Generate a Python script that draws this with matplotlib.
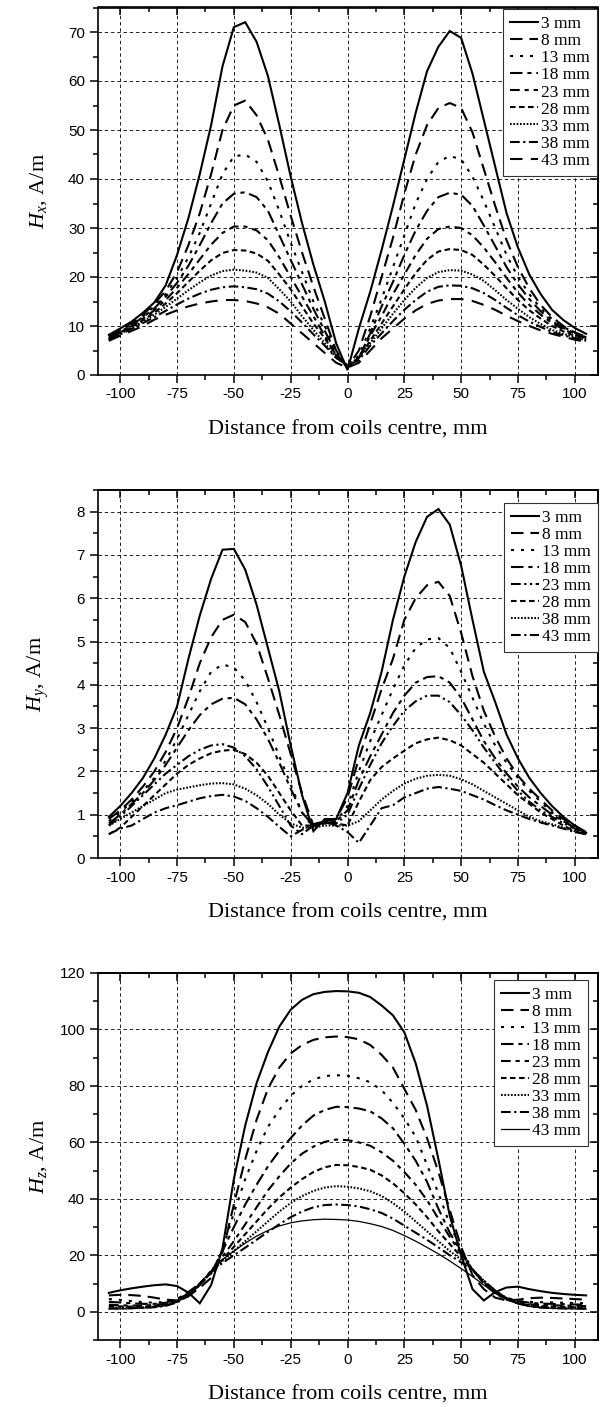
import matplotlib
matplotlib.use('Agg')
import matplotlib.pyplot as plt
from matplotlib.ticker import MultipleLocator

plt.rcParams['font.family'] = ['Liberation Sans', 'DejaVu Sans']
plt.rcParams['axes.unicode_minus'] = False
plt.rcParams['lines.scale_dashes'] = False
plt.rcParams['mathtext.fontset'] = 'custom'
plt.rcParams['mathtext.rm'] = 'Liberation Serif'
plt.rcParams['mathtext.it'] = 'Liberation Serif:italic'

# ---------------- data ----------------
x_mm = [-105, -100, -95, -90, -85, -80, -75, -70, -65, -60, -55, -50, -45, -40, -35, -30,
        -25, -20, -15, -10, -5, 0, 5, 10, 15, 20, 25, 30, 35, 40, 45, 50, 55, 60, 65, 70,
        75, 80, 85, 90, 95, 100, 105]

labels_x = ['3 mm', '8 mm', '13 mm', '18 mm', '23 mm', '28 mm', '33 mm', '38 mm', '43 mm']
labels_y = ['3 mm', '8 mm', '13 mm', '18 mm', '23 mm', '28 mm', '38 mm', '43 mm']
labels_z = ['3 mm', '8 mm', '13 mm', '18 mm', '23 mm', '28 mm', '33 mm', '38 mm', '43 mm']

hx_3 = [8.2, 9.5, 10.9, 12.7, 14.8, 18.3, 24.5, 32, 41, 51, 63, 71, 72, 68, 61, 51, 40.5, 31, 22.5, 15, 6.5, 1.0,
        9.5, 17, 25.5, 34.5, 44, 53.5, 62, 67, 70.2, 68.8, 61.5, 52, 42.5, 33, 26, 20.5, 16.5, 13.3, 11.2, 9.6, 8.4]
hx_8 = [7.8, 9.2, 10.6, 12.3, 14.5, 17.2, 21, 26.5, 33, 41, 50, 55, 56, 53, 48, 40.5, 32.5, 25, 18, 11.5, 5, 1.5,
        5, 12, 20, 28, 37, 45, 51, 54.5, 55.5, 54.5, 49.5, 42, 34.5, 27.5, 22, 17.7, 14.3, 11.8, 10, 8.7, 7.8]
hx_13 = [7.6, 9, 10.4, 12, 14, 16.5, 19.8, 24, 29, 35, 41, 44.6, 45, 43.5, 39.5, 33.5, 27, 21, 15, 10, 4.5, 1.5,
         4, 9.5, 15.5, 22, 28.5, 35, 40, 43.5, 44.7, 44, 40.5, 35.5, 30, 24.5, 20, 16.5, 13.6, 11.4, 9.8, 8.6, 7.7]
hx_18 = [7.4, 8.8, 10.2, 11.8, 13.6, 16, 18.8, 22.3, 26.5, 31, 35, 37, 37.3, 36.3, 33.5, 28.5, 23.5, 18.5, 13.5, 9, 4.5, 1.5,
         3.5, 8.5, 14, 19, 24.5, 29.5, 33.5, 36.3, 37.2, 36.8, 34.5, 30.5, 26.3, 22, 18.5, 15.5, 13, 11, 9.6, 8.5, 7.6]
hx_23 = [7.3, 8.7, 10, 11.5, 13.2, 15.3, 17.8, 20.6, 23.6, 26.6, 29, 30.3, 30.3, 29.5, 27.5, 24, 20, 16, 12, 8, 4, 1.5,
         3.5, 8, 12, 16.5, 20.5, 24.5, 27.8, 29.8, 30.3, 30, 28.5, 26, 23, 19.8, 16.8, 14.3, 12.3, 10.6, 9.3, 8.3, 7.5]
hx_28 = [7.2, 8.6, 9.8, 11.2, 12.7, 14.6, 16.7, 19, 21.3, 23.4, 24.9, 25.5, 25.4, 24.8, 23.3, 20.5, 17.5, 14, 10.5, 7.5, 4, 1.8,
         3.5, 7, 10.5, 14, 17.5, 20.8, 23.5, 25.2, 25.7, 25.5, 24.5, 22.5, 20.2, 17.7, 15.3, 13.2, 11.5, 10, 8.9, 8, 7.3]
hx_33 = [7.1, 8.4, 9.6, 10.9, 12.3, 13.9, 15.6, 17.3, 18.9, 20.3, 21.2, 21.5, 21.3, 20.9, 19.8, 17.5, 15, 12, 9.2, 6.5, 3.5, 2.0,
         3.5, 6.5, 9.5, 12.5, 15.3, 17.8, 19.8, 21, 21.4, 21.3, 20.5, 19.2, 17.3, 15.3, 13.5, 11.8, 10.4, 9.2, 8.4, 7.7, 7.1]
hx_38 = [7.0, 8.3, 9.4, 10.6, 11.8, 13.1, 14.4, 15.6, 16.6, 17.4, 17.9, 18.1, 17.9, 17.5, 16.6, 15, 13, 10.7, 8.3, 6, 3.5, 2.0,
         3, 6, 8.5, 11, 13.3, 15.3, 17, 18, 18.3, 18.2, 17.7, 16.7, 15.3, 13.7, 12.2, 10.9, 9.8, 8.8, 8.1, 7.5, 7.0]
hx_43 = [7.0, 8.0, 9.0, 10.0, 11.3, 12.3, 13.2, 14.0, 14.6, 15.0, 15.3, 15.3, 15.1, 14.6, 13.8, 12.5, 10.5, 8.5, 6.5, 4.5, 2.5, 1.5,
         2.5, 5, 7.5, 9.5, 11.5, 13.2, 14.5, 15.2, 15.5, 15.5, 15.1, 14.3, 13.3, 12.1, 11, 10, 9.1, 8.4, 7.8, 7.2, 6.8]

hy_3 = [0.95, 1.2, 1.5, 1.85, 2.3, 2.85, 3.5, 4.6, 5.6, 6.45, 7.12, 7.14, 6.66, 5.85, 4.85, 3.85, 2.6, 1.45, 0.62, 0.9, 0.9, 1.5,
        2.6, 3.35, 4.3, 5.5, 6.5, 7.3, 7.88, 8.06, 7.7, 6.75, 5.5, 4.3, 3.6, 2.85, 2.3, 1.85, 1.5, 1.2, 0.95, 0.75, 0.58]
hy_8 = [0.9, 1.1, 1.35, 1.65, 2.0, 2.45, 3.0, 3.7, 4.5, 5.1, 5.5, 5.62, 5.45, 4.95, 4.15, 3.3, 2.4, 1.5, 0.75, 0.85, 0.9, 1.4,
        2.3, 3.1, 3.9, 4.6, 5.5, 6.0, 6.3, 6.38, 6.05, 5.2, 4.2, 3.4, 2.8, 2.3, 1.9, 1.6, 1.35, 1.1, 0.9, 0.75, 0.6]
hy_13 = [0.85, 1.05, 1.3, 1.55, 1.85, 2.25, 2.75, 3.3, 3.85, 4.3, 4.47, 4.4, 4.1, 3.6, 3.0, 2.35, 1.7, 1.05, 0.7, 0.85, 0.85, 1.2,
         2.0, 2.7, 3.3, 3.9, 4.45, 4.85, 5.05, 5.08, 4.85, 4.3, 3.7, 3.1, 2.6, 2.2, 1.85, 1.55, 1.3, 1.05, 0.85, 0.7, 0.58]
hy_18 = [0.8, 1.0, 1.25, 1.5, 1.8, 2.15, 2.55, 2.95, 3.3, 3.55, 3.68, 3.7, 3.55, 3.2, 2.75, 2.2, 1.6, 1.05, 0.75, 0.8, 0.85, 1.1,
         1.8, 2.35, 2.85, 3.35, 3.75, 4.05, 4.18, 4.2, 4.05, 3.7, 3.2, 2.7, 2.3, 1.95, 1.65, 1.4, 1.2, 1.0, 0.85, 0.7, 0.58]
hy_23 = [0.75, 0.95, 1.2, 1.45, 1.7, 1.95, 2.15, 2.35, 2.5, 2.6, 2.63, 2.55, 2.35, 2.05, 1.65, 1.2, 0.75, 0.55, 0.75, 0.8, 0.8, 1.0,
         1.6, 2.15, 2.65, 3.05, 3.4, 3.62, 3.75, 3.75, 3.6, 3.3, 2.95, 2.55, 2.2, 1.85, 1.55, 1.3, 1.1, 0.95, 0.8, 0.68, 0.55]
hy_28 = [0.55, 0.7, 0.95, 1.2, 1.45, 1.7, 1.95, 2.15, 2.3, 2.42, 2.48, 2.5, 2.4, 2.2, 1.9, 1.5, 1.1, 0.75, 0.75, 0.85, 0.8, 0.75,
         1.3, 1.8, 2.1, 2.3, 2.48, 2.65, 2.74, 2.78, 2.72, 2.6, 2.4, 2.2, 1.95, 1.7, 1.45, 1.25, 1.05, 0.9, 0.75, 0.62, 0.55]
hy_38 = [0.75, 0.9, 1.05, 1.2, 1.35, 1.5, 1.58, 1.63, 1.68, 1.72, 1.73, 1.7, 1.6, 1.45, 1.25, 1.0, 0.8, 0.7, 0.7, 0.75, 0.75, 0.75,
         0.85, 1.1, 1.35, 1.55, 1.72, 1.83, 1.9, 1.92, 1.9, 1.82, 1.7, 1.55, 1.4, 1.25, 1.1, 0.95, 0.85, 0.78, 0.7, 0.62, 0.55]
hy_43 = [0.55, 0.68, 0.75, 0.9, 1.05, 1.15, 1.22, 1.3, 1.38, 1.43, 1.46, 1.42, 1.32, 1.15, 0.95, 0.72, 0.5, 0.65, 0.78, 0.85, 0.75, 0.6,
         0.35, 0.75, 1.15, 1.22, 1.4, 1.5, 1.6, 1.64, 1.6, 1.55, 1.45, 1.35, 1.22, 1.1, 1.0, 0.9, 0.82, 0.75, 0.68, 0.6, 0.55]

hz_3 = [6.7, 7.6, 8.3, 8.9, 9.4, 9.7, 9.1, 6.8, 3.0, 9.5, 22.5, 47, 66, 81, 92, 101, 107, 110.5, 112.5, 113.3, 113.6, 113.5,
        113, 111.5, 108.5, 105, 99, 88, 73, 54, 34, 20, 8, 4, 7, 8.6, 8.9, 8, 7.3, 6.7, 6.3, 6, 5.8]
hz_8 = [5.8, 6.0, 5.9, 5.6, 5.0, 4.3, 4.0, 5.5, 8.5, 12, 21, 38, 54, 68, 79, 86.5, 91.5, 94.5, 96.3, 97.2, 97.5, 97.3,
        96.5, 94.5, 91, 86.5, 79, 71.5, 61.5, 49.5, 36, 23, 13, 8, 5, 4, 4.3, 4.8, 5, 4.9, 4.7, 4.5, 4.3]
hz_13 = [4.5, 4.2, 3.8, 3.4, 3.2, 3.5, 4.5, 6.5, 9.5, 13.5, 22, 35, 47, 57, 65.5, 71.5, 76.5, 80, 82.3, 83.5, 83.8, 83.6,
         82.7, 81.3, 78.5, 74, 68.5, 62, 52, 42, 31, 22, 15, 10, 6.5, 4.5, 3.8, 3.5, 3.4, 3.3, 3.2, 3.1, 3.0]
hz_18 = [3.5, 3.3, 3.0, 2.8, 2.8, 3.2, 4.5, 7, 10, 14, 21.5, 30, 38, 45, 51.5, 57, 61.5, 66, 69.5, 71.5, 72.6, 72.5,
         72, 71, 68.5, 65, 59.5, 53.5, 46, 36.5, 28, 21, 15, 10, 7, 5, 3.8, 3.2, 2.9, 2.8, 2.7, 2.6, 2.5]
hz_23 = [2.5, 2.3, 2.2, 2.2, 2.4, 2.9, 4.2, 6.5, 10, 14.5, 19.5, 25, 31, 37, 43, 48, 52.5, 56, 58.5, 60.2, 61, 60.8,
         60, 58.8, 56.5, 53.5, 49.5, 45, 39.5, 33, 26.5, 20.5, 15, 10, 6.5, 4.3, 3.2, 2.7, 2.4, 2.3, 2.2, 2.1, 2.0]
hz_28 = [2, 1.9, 1.8, 1.8, 2, 2.5, 3.8, 6, 9.5, 14, 18.5, 23, 27.5, 32, 36.5, 40.5, 44, 47, 49.5, 51.2, 52, 51.9,
         51.3, 50.3, 48.3, 45.5, 42, 38, 33.5, 28.5, 24, 19.5, 15, 10.5, 7, 4.5, 3, 2.3, 2, 1.9, 1.8, 1.7, 1.6]
hz_33 = [1.5, 1.5, 1.5, 1.6, 1.8, 2.3, 3.5, 5.8, 9.5, 14, 18, 21.5, 25, 28.5, 32, 35.5, 38.5, 41, 42.8, 44, 44.5, 44.3,
         43.7, 42.7, 41, 38.5, 35.5, 32, 28.5, 25, 21.5, 18.5, 15, 11, 7.5, 4.8, 3, 2.1, 1.7, 1.5, 1.4, 1.4, 1.3]
hz_38 = [1.2, 1.2, 1.3, 1.4, 1.6, 2.1, 3.3, 5.6, 9.5, 14, 17.3, 20, 22.7, 25.5, 28.3, 31, 33.5, 35.5, 37, 37.8, 38, 37.8,
         37.3, 36.3, 35, 33, 30.5, 28, 25.5, 22.8, 20, 17.5, 14.8, 11, 7.5, 4.8, 3, 2, 1.5, 1.3, 1.2, 1.2, 1.1]
hz_43 = [1.0, 1.0, 1.1, 1.3, 1.6, 2.2, 3.5, 6, 10, 14.5, 18.5, 21.5, 24.3, 26.8, 28.8, 30.4, 31.5, 32.2, 32.6, 32.8, 32.7, 32.5,
         32, 31.2, 30.2, 28.8, 27, 25, 22.8, 20.5, 18, 15.3, 12.5, 9.5, 6.5, 4.3, 2.8, 1.9, 1.4, 1.2, 1.1, 1.0, 1.0]

# ---------------- styles ----------------
LW = 1.5
S_SOLID = ('-', LW)
S_LONG = ((0, (9, 5)), LW)
S_SPARSE = ((0, (2.2, 5)), LW)
S_DASHDASH = ((0, (9, 3.5, 3, 3.5)), LW)
S_DASHDASH2 = ((0, (7, 3.5, 3, 3.5)), LW)
S_SHORT = ((0, (4, 2.5)), LW)
S_DOT = ((0, (1.2, 1.2)), LW)
S_DASHDOT = ((0, (7, 2.5, 1.6, 2.5)), LW)
S_DASHDOTDOT = ((0, (7, 2.5, 1.6, 2.5, 1.6, 2.5)), LW)
S_LONG43 = ((0, (9, 6)), LW)
S_THIN = ('-', 0.9)

panels = [
    dict(series=[hx_3, hx_8, hx_13, hx_18, hx_23, hx_28, hx_33, hx_38, hx_43], labels=labels_x,
         styles=[S_SOLID, S_LONG, S_SPARSE, S_DASHDASH, S_DASHDASH2, S_SHORT, S_DOT, S_DASHDOT, S_LONG43],
         ylim=(0, 75), ymaj=10, ymin=5, ylabel=r'$H_x$, A/m', top_px=7.5, bot_px=375,
         leg_anchor=(0.998, 0.995)),
    dict(series=[hy_3, hy_8, hy_13, hy_18, hy_23, hy_28, hy_38, hy_43], labels=labels_y,
         styles=[S_SOLID, S_LONG, S_SPARSE, S_DASHDASH, S_DASHDOTDOT, S_SHORT, S_DOT, S_DASHDOT],
         ylim=(0, 8.5), ymaj=1, ymin=0.5, ylabel=r'$H_y$, A/m', top_px=490, bot_px=858,
         leg_anchor=(1.0, 0.964)),
    dict(series=[hz_3, hz_8, hz_13, hz_18, hz_23, hz_28, hz_33, hz_38, hz_43], labels=labels_z,
         styles=[S_SOLID, S_LONG, S_SPARSE, S_DASHDASH, S_DASHDASH2, S_SHORT, S_DOT, S_DASHDOT, S_THIN],
         ylim=(-10, 120), ymaj=20, ymin=10, ylabel=r'$H_z$, A/m', top_px=973, bot_px=1340,
         leg_anchor=(0.98, 0.981)),
]

W, H = 600, 1407
fig = plt.figure(figsize=(W / 100, H / 100), dpi=100)

left_px, right_px = 97.5, 597.5
for p in panels:
    rect = [left_px / W, 1 - p['bot_px'] / H, (right_px - left_px) / W, (p['bot_px'] - p['top_px']) / H]
    ax = fig.add_axes(rect)
    for y, lab, (ls, lw) in zip(p['series'], p['labels'], p['styles']):
        ax.plot(x_mm, y, color='black', linestyle=ls, linewidth=lw, label=lab,
                solid_joinstyle='miter', dash_capstyle='butt')
    ax.set_xlim(-110, 110)
    ax.set_ylim(*p['ylim'])
    ax.xaxis.set_major_locator(MultipleLocator(25))
    ax.xaxis.set_minor_locator(MultipleLocator(12.5))
    ax.yaxis.set_major_locator(MultipleLocator(p['ymaj']))
    ax.yaxis.set_minor_locator(MultipleLocator(p['ymin']))
    if p['ylim'][0] < 0:
        ax.set_yticks([v for v in range(0, 121, 20)])
    ax.grid(True, which='major', color='black', linestyle=(0, (2.5, 2)), linewidth=0.6)
    for s in ax.spines.values():
        s.set_linewidth(1.2)
    ax.tick_params(which='major', direction='out', length=6, width=1.1, top=False, right=False,
                   labelsize=11, pad=3)
    ax.tick_params(which='minor', direction='out', length=3.5, width=1.1, top=False, right=False)
    # inward ticks on top and right
    secx = ax.secondary_xaxis('top')
    secx.xaxis.set_major_locator(MultipleLocator(25))
    secx.xaxis.set_minor_locator(MultipleLocator(12.5))
    secx.tick_params(which='major', direction='in', length=6, width=1.1, labeltop=False)
    secx.tick_params(which='minor', direction='in', length=3.5, width=1.1)
    secx.spines['top'].set_linewidth(1.2)
    secy = ax.secondary_yaxis('right')
    secy.yaxis.set_major_locator(MultipleLocator(p['ymaj']))
    secy.yaxis.set_minor_locator(MultipleLocator(p['ymin']))
    secy.tick_params(which='major', direction='in', length=6, width=1.1, labelright=False)
    secy.tick_params(which='minor', direction='in', length=3.5, width=1.1)
    secy.spines['right'].set_linewidth(1.2)

    ax.set_xlabel('Distance from coils centre, mm', family='Liberation Serif', fontsize=16, va='center')
    ax.xaxis.set_label_coords(0.5, -0.15)
    ax.set_ylabel(p['ylabel'], family='Liberation Serif', fontsize=16, va='center')
    ax.yaxis.set_label_coords(-0.118, 0.5)

    leg = ax.legend(loc='upper right', bbox_to_anchor=p['leg_anchor'], borderaxespad=0,
                    prop={'family': 'Liberation Serif', 'size': 12.5},
                    handlelength=1.6, handletextpad=0.15, labelspacing=0.05, borderpad=0.4,
                    fancybox=False, edgecolor='#333333', framealpha=1)
    leg.get_frame().set_linewidth(0.8)

fig.savefig('out.png', dpi=100)
